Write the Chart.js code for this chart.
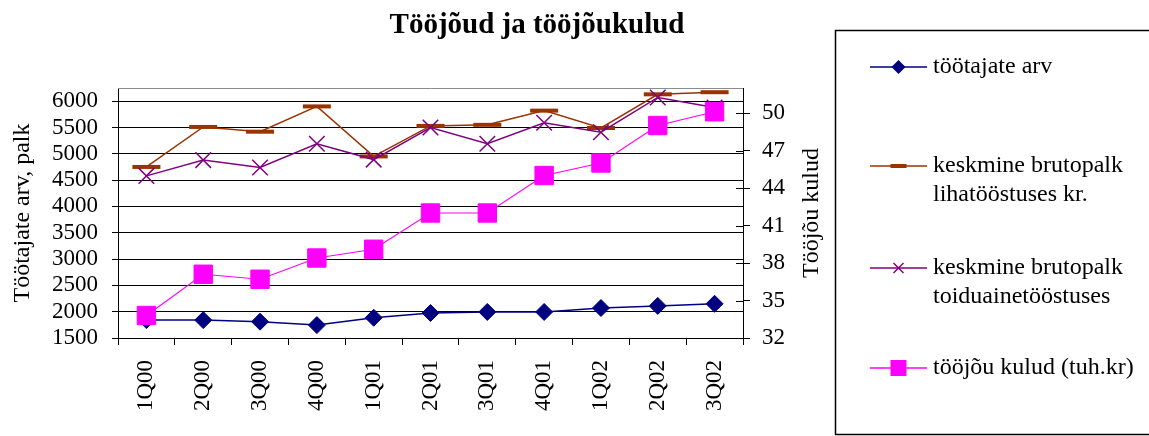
<!DOCTYPE html>
<html><head><meta charset="utf-8">
<script src="https://cdn.jsdelivr.net/npm/chart.js@4.4.0/dist/chart.umd.min.js"></script>
<style>html,body{margin:0;padding:0;background:#fff;}canvas{display:block}</style>
</head><body>
<canvas id="c" width="1149" height="436"></canvas>
<script>
const categories = ['1Q00','2Q00','3Q00','4Q00','1Q01','2Q01','3Q01','4Q01','1Q02','2Q02','3Q02'];
const workers   = [1840, 1840, 1810, 1745, 1885, 1975, 1995, 1995, 2070, 2110, 2150];
const wageMeat  = [4750, 5510, 5420, 5900, 4950, 5530, 5550, 5820, 5490, 6130, 6170];
const wageFood  = [4580, 4880, 4740, 5190, 4890, 5500, 5190, 5590, 5410, 6070, 5880];
const laborCost = [33.8, 37.1, 36.7, 38.4, 39.1, 42.0, 42.0, 45.0, 46.0, 49.0, 50.1];
const leftTicks  = [1500, 2000, 2500, 3000, 3500, 4000, 4500, 5000, 5500, 6000];
const rightTicks = [32, 35, 38, 41, 44, 47, 50];
const titleText = 'Tööjõud ja tööjõukulud';
const leftTitle = 'Töötajate arv, palk';
const rightTitle = 'Tööjõu kulud';
const legendLabels = [['töötajate arv'], ['keskmine brutopalk','lihatööstuses kr.'], ['keskmine brutopalk','toiduainetööstuses'], ['tööjõu kulud (tuh.kr)']];

const FONT = '"Liberation Serif", "Times New Roman", serif';
const colors = ['#000080', '#993300', '#800080', '#FF00FF'];

const deco = {
  id: 'deco',
  afterDraw(chart) {
    const ctx = chart.ctx, a = chart.chartArea;
    ctx.save();
    // top border of plot area
    ctx.strokeStyle = '#8c8c8c'; ctx.lineWidth = 1;
    ctx.beginPath(); ctx.moveTo(a.left, Math.round(a.top) + 0.5); ctx.lineTo(a.right, Math.round(a.top) + 0.5); ctx.stroke();
    // inner tick marks on right axis
    const yR = chart.scales.yR;
    ctx.strokeStyle = '#000'; ctx.beginPath();
    rightTicks.forEach(v => { const y = Math.round(yR.getPixelForValue(v)) + 0.5; ctx.moveTo(a.right - 7, y); ctx.lineTo(a.right, y); });
    ctx.stroke();
    // right axis title (reads bottom to top)
    ctx.save();
    ctx.translate(812, (a.top + a.bottom) / 2);
    ctx.rotate(-Math.PI / 2);
    ctx.fillStyle = '#000'; ctx.font = '24px ' + FONT; ctx.textAlign = 'center'; ctx.textBaseline = 'middle';
    ctx.fillText(rightTitle, 0, 0);
    ctx.restore();
    // main title
    ctx.fillStyle = '#000'; ctx.font = 'bold 29px ' + FONT; ctx.textAlign = 'center'; ctx.textBaseline = 'alphabetic';
    ctx.fillText(titleText, 537, 33);
    // legend box
    ctx.lineWidth = 1.5; ctx.strokeStyle = '#000';
    ctx.strokeRect(835.5, 30.5, 330, 404);
    const ys = [67, 166, 268, 368];
    ctx.font = '24px ' + FONT; ctx.textAlign = 'left'; ctx.textBaseline = 'middle';
    legendLabels.forEach((lines, i) => {
      const y = ys[i], c = colors[i], mx = 898.5;
      ctx.strokeStyle = c; ctx.fillStyle = c; ctx.lineWidth = 1.5;
      ctx.beginPath(); ctx.moveTo(870, y); ctx.lineTo(927, y); ctx.stroke();
      ctx.beginPath();
      if (i === 0) { const r = 7; ctx.moveTo(mx, y - r); ctx.lineTo(mx + r, y); ctx.lineTo(mx, y + r); ctx.lineTo(mx - r, y); ctx.closePath(); ctx.fill(); }
      else if (i === 1) { ctx.lineWidth = 4; ctx.moveTo(mx - 8, y); ctx.lineTo(mx + 8, y); ctx.stroke(); }
      else if (i === 2) { const r = 5; ctx.moveTo(mx - r, y - r); ctx.lineTo(mx + r, y + r); ctx.moveTo(mx - r, y + r); ctx.lineTo(mx + r, y - r); ctx.stroke(); }
      else { ctx.fillRect(mx - 8, y - 8, 16, 16); }
      ctx.fillStyle = '#000';
      lines.forEach((t, k) => ctx.fillText(t, 933, y + k * 29));
    });
    ctx.restore();
  }
};

new Chart(document.getElementById('c'), {
  type: 'line',
  data: {
    labels: categories,
    datasets: [
      { label: legendLabels[0].join(' '), data: workers, yAxisID: 'y', order: 4,
        borderColor: colors[0], backgroundColor: colors[0], borderWidth: 1.5,
        pointStyle: 'rectRot', pointRadius: 8.5, pointBorderWidth: 1, pointBackgroundColor: colors[0], pointBorderColor: colors[0] },
      { label: legendLabels[1].join(' '), data: wageMeat, yAxisID: 'y', order: 3,
        borderColor: colors[1], backgroundColor: colors[1], borderWidth: 1.5,
        pointStyle: 'line', pointRadius: 14, pointBorderWidth: 4, pointBorderColor: colors[1] },
      { label: legendLabels[2].join(' '), data: wageFood, yAxisID: 'y', order: 2,
        borderColor: colors[2], backgroundColor: colors[2], borderWidth: 1.5,
        pointStyle: 'crossRot', pointRadius: 11, pointBorderWidth: 1.5, pointBorderColor: colors[2] },
      { label: legendLabels[3].join(' '), data: laborCost, yAxisID: 'yR', order: 1,
        borderColor: colors[3], backgroundColor: colors[3], borderWidth: 1.2,
        pointStyle: 'rect', pointRadius: 13, pointBorderWidth: 1, pointBackgroundColor: colors[3], pointBorderColor: colors[3] }
    ]
  },
  options: {
    responsive: false, devicePixelRatio: 1, animation: false, events: [],
    layout: { padding: { top: 88, right: 306, bottom: 0, left: 0 } },
    plugins: { legend: { display: false }, title: { display: false }, tooltip: { enabled: false } },
    elements: { line: { tension: 0, fill: false } },
    scales: {
      x: {
        type: 'category', offset: true,
        grid: { display: true, drawOnChartArea: false, drawTicks: true, tickLength: 7, color: '#000', offset: true },
        border: { display: true, color: '#000', width: 1 },
        ticks: { color: '#000', font: { family: FONT, size: 23 }, minRotation: 90, maxRotation: 90, autoSkip: false, padding: 15 },
        afterFit(s) { s.height = 98; }
      },
      y: {
        position: 'left', min: 1500, max: 6250,
        afterBuildTicks(s) { s.ticks = leftTicks.map(v => ({ value: v })); },
        grid: { color: '#000', lineWidth: 1, tickLength: 6, drawTicks: true },
        border: { display: true, color: '#000', width: 1 },
        ticks: { color: '#000', font: { family: FONT, size: 23 }, padding: 14, autoSkip: false, callback: v => String(v) },
        title: { display: true, text: leftTitle, color: '#000', font: { family: FONT, size: 24 }, padding: { top: 8, bottom: 0 } },
        afterFit(s) { s.width = 118; }
      },
      yR: {
        position: 'right', min: 32, max: 52,
        afterBuildTicks(s) { s.ticks = rightTicks.map(v => ({ value: v })); },
        grid: { drawOnChartArea: false, tickLength: 7, color: '#000', drawTicks: true },
        border: { display: true, color: '#000', width: 1 },
        ticks: { color: '#000', font: { family: FONT, size: 23 }, padding: 12, autoSkip: false, callback: v => String(v) },
        afterFit(s) { s.width = 100; }
      }
    }
  },
  plugins: [deco]
});
</script>
</body></html>
